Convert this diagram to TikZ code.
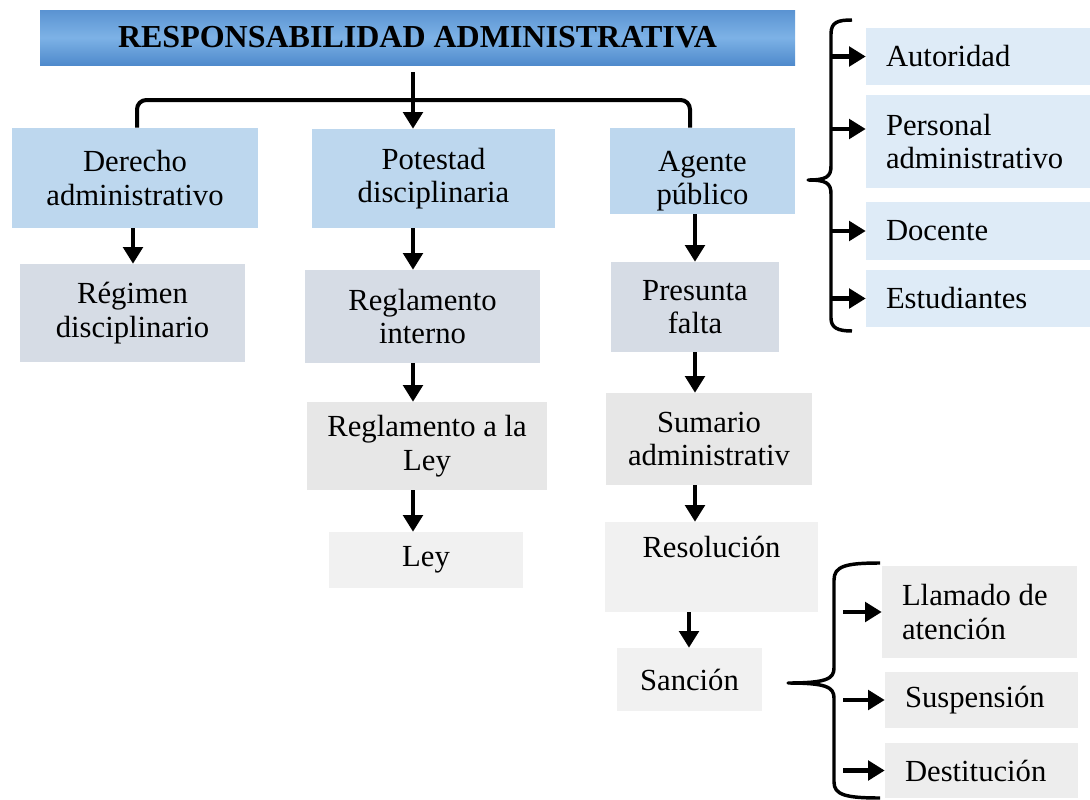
\documentclass[tikz,border=0pt]{standalone}
\usepackage{fontspec}
\setmainfont{Liberation Serif}
\usetikzlibrary{arrows.meta}
\definecolor{lvA}{HTML}{BDD7EE}
\definecolor{lvB}{HTML}{D6DCE5}
\definecolor{lvC}{HTML}{E7E7E7}
\definecolor{lvD}{HTML}{F1F1F1}
\definecolor{sideC}{HTML}{DEEBF7}
\definecolor{sancC}{HTML}{EDEDED}
\definecolor{tA}{HTML}{5A93D2}
\definecolor{tM}{HTML}{7DB2E6}
\definecolor{tB}{HTML}{4F8ACC}
\tikzset{
  bx/.style 2 args={rectangle, inner sep=0pt, minimum width=#1*0.75pt, minimum height=#2*0.75pt,
     font=\fontsize{23}{25}\selectfont, align=center},
  sbx/.style n args={3}{bx={#1}{#2}, align=flush left, inner xsep=15pt, text width=#3},
  arr/.style={line width=3.6pt, -{Triangle[length=12.5pt,width=14.5pt]}},
  brk/.style={line width=3pt, rounded corners=7pt},
  brc/.style={line width=2.6pt, line join=round}
}
\begin{document}
\begin{tikzpicture}[x=0.75pt,y=-0.75pt]
\useasboundingbox (0,0) rectangle (1090,800);
\fill[white] (0,0) rectangle (1090,800);

% title
\node[bx={755}{55}, top color=tA, bottom color=tB, middle color=tM,
      font=\fontsize{24}{25}\selectfont\bfseries] (title) at (417.5,37.5) {RESPONSABILIDAD ADMINISTRATIVA};

% first level
\node[bx={246}{100}, fill=lvA] (derecho) at (135,178) {Derecho\\administrativo};
\node[bx={243}{99}, fill=lvA] (potestad) at (433.5,178.5) {Potestad\\disciplinaria};
\node[bx={185}{86}, fill=lvA] (agente) at (702.5,171) {\rule{0pt}{30pt}Agente\\público};

% left column
\node[bx={225}{98}, fill=lvB] (regimen) at (132.5,313) {Régimen\\disciplinario};

% middle column
\node[bx={235}{93}, fill=lvB] (rint) at (422.5,316.5) {Reglamento\\interno};
\node[bx={240}{88}, fill=lvC] (rley) at (427,446) {Reglamento a la\\Ley};
\node[bx={194}{56}, fill=lvD] (ley) at (426,560) {Ley};

% right column
\node[bx={168}{90}, fill=lvB] (presunta) at (695,307) {Presunta\\falta};
\node[bx={206}{92}, fill=lvC] (sumario) at (709,439) {Sumario\\administrativ};
\node[bx={213}{90}, fill=lvD] (resol) at (711.5,567) {Resolución\rule[-30pt]{0pt}{30pt}};
\node[bx={145}{63}, fill=lvD] (sancion) at (689.5,679.5) {Sanción};

% side list
\node[sbx={224}{57}{138pt}, fill=sideC] (aut) at (978,56.5) {Autoridad};
\node[sbx={224}{93}{138pt}, fill=sideC] (pers) at (978,141.5) {Personal\\administrativo};
\node[sbx={224}{58}{138pt}, fill=sideC] (doc) at (978,231) {Docente};
\node[sbx={224}{57}{138pt}, fill=sideC] (est) at (978,298.5) {Estudiantes};

% sanctions
\node[sbx={195}{92}{116.25pt}, fill=sancC] (llam) at (979.5,612) {Llamado de\\atención};
\node[sbx={193}{56}{114.75pt}, fill=sancC] (susp) at (981.5,700) {Suspensión};
\node[sbx={193}{55}{114.75pt}, fill=sancC] (dest) at (981.5,770.5) {Destitución};

% coordinates
\coordinate (ts) at (413,72);
\coordinate (bl) at (137,100);
\coordinate (br) at (690,100);
\coordinate (c1) at (133,0);
\coordinate (c2) at (413,0);
\coordinate (c3) at (695,0);
\coordinate (c4) at (689,0);
\coordinate (rb) at (831,0);
\coordinate (pp) at (0,129);
\coordinate (bb) at (843,0);

% top bracket and arrow
\draw[brk] (derecho.north -| bl) -- (bl) -- (br) -- (agente.north -| br);
\draw[arr] (ts) -- (potestad.north -| ts);

% vertical arrows
\draw[arr] (derecho.south -| c1) -- (regimen.north -| c1);
\draw[arr] (potestad.south -| c2) -- (rint.north -| c2);
\draw[arr] (rint.south -| c2) -- (rley.north -| c2);
\draw[arr] (rley.south -| c2) -- (ley.north -| c2);
\draw[arr] (agente.south -| c3) -- (presunta.north -| c3);
\draw[arr] (presunta.south -| c3) -- (sumario.north -| c3);
\draw[arr] (sumario.south -| c3) -- (resol.north -| c3);
\draw[arr] (resol.south -| c4) -- (sancion.north -| c4);

% right brace
\draw[brc] (852,20) .. controls (838,20) and (831,22) .. (831,34) -- (831,166)
  .. controls (831,177) and (826,180) .. (808,180)
  .. controls (826,180) and (831,183) .. (831,194) -- (831,318)
  .. controls (831,328) and (838,331) .. (852,331);
\draw[arr] (rb |- aut.west) -- (aut.west);
\draw[arr] (rb |- pp) -- (pers.west |- pp);
\draw[arr] (rb |- doc.west) -- (doc.west);
\draw[arr] (rb |- est.west) -- (est.west);

% bottom brace
\draw[brc] (880,563) .. controls (846,563) and (834,566) .. (834,580) -- (834,668)
  .. controls (834,679) and (826,683) .. (788,683)
  .. controls (826,683) and (834,687) .. (834,698) -- (834,782)
  .. controls (834,795) and (846,798) .. (880,798);
\draw[arr] (bb |- llam.west) -- (llam.west);
\draw[arr] (bb |- susp.west) -- (susp.west);
\draw[arr] (bb |- dest.west) -- (dest.west);
\end{tikzpicture}
\end{document}
